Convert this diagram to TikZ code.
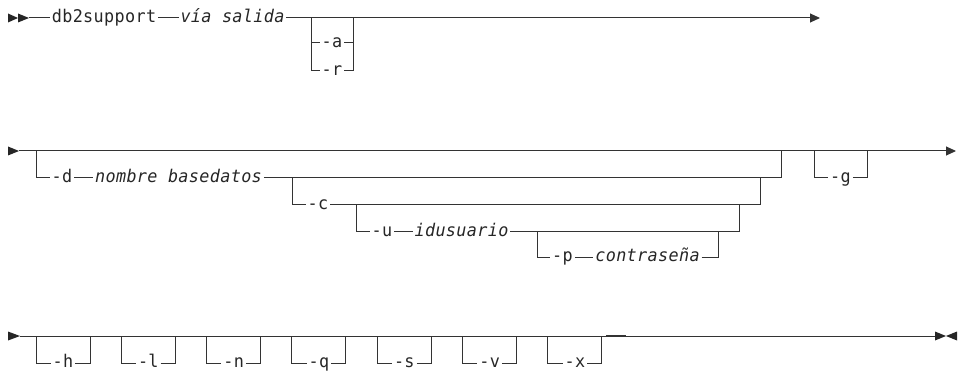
\documentclass[tikz,border=0pt]{standalone}
\usepackage{fontspec}
\usetikzlibrary{arrows.meta}
\newfontfamily\rrfont[LetterSpace=2,FakeStretch=0.96]{DejaVu Sans Mono}
\begin{document}
\begin{tikzpicture}[x=1pt,y=-1pt,line width=1pt,
  rail/.style={draw=black!80,line width=1pt},
  lbl/.style={font=\rrfont\fontsize{17.5}{19}\selectfont,inner xsep=1.5pt,inner ysep=0pt,anchor=base,text=black!85},
  var/.style={lbl,font=\rrfont\fontsize{17.5}{19}\selectfont\itshape},
  tip/.style={-{Triangle[length=10pt,width=9pt]}},
  head/.style={fill=black!85}]
\useasboundingbox (0,0) rectangle (960,371);
\def\dy{4.7}
% ---------- row 1 ----------
\fill[head] (8,13.5) -- (18,18) -- (8,22.5) -- cycle;
\fill[head] (18,13.5) -- (29,18) -- (18,22.5) -- cycle;
\coordinate (r1s) at (29,18);
\coordinate (r1e) at (820,18);
\node[lbl] (db) at (104,18+\dy) {db2support};
\node[var] (vs) at (232.5,18+\dy) {vía salida};
\draw[rail] (r1s) -- (r1s -| db.west);
\draw[rail] (r1s -| db.east) -- (r1s -| vs.west);
\draw[rail,tip] (r1s -| vs.east) -- (r1e);
\coordinate (a1) at (311,18);
\coordinate (a2) at (353,18);
\coordinate (ya) at (0,43);
\coordinate (yr) at (0,70.5);
\node[lbl] (na) at (332,43+\dy) {-a};
\node[lbl] (nr) at (332,70.5+\dy) {-r};
\draw[rail] (a1) |- (ya -| na.west);
\draw[rail] (ya -| na.east) -| (a2);
\draw[rail] (a1) |- (yr -| nr.west);
\draw[rail] (yr -| nr.east) -| (a2);
% ---------- row 2 ----------
\fill[head] (8,146.5) -- (19,151) -- (8,155.5) -- cycle;
\coordinate (r2s) at (19,151);
\coordinate (r2e) at (956,151);
\draw[rail,tip] (r2s) -- (r2e);
\coordinate (d1) at (36,151);
\coordinate (d2) at (781,151);
\coordinate (yd) at (0,178);
\node[lbl] (nd) at (62,178+\dy) {-d};
\node[var] (nb) at (178.5,178+\dy) {nombre basedatos};
\draw[rail] (d1) |- (yd -| nd.west);
\draw[rail] (yd -| nd.east) -- (yd -| nb.west);
\draw[rail] (yd -| nb.east) -| (d2);
\coordinate (c1) at (292,178);
\coordinate (c2) at (760,178);
\coordinate (yc) at (0,205);
\node[lbl] (nc) at (318,205+\dy) {-c};
\draw[rail] (c1) |- (yc -| nc.west);
\draw[rail] (yc -| nc.east) -| (c2);
\coordinate (u1) at (356,205);
\coordinate (u2) at (739,205);
\coordinate (yu) at (0,232);
\node[lbl] (nu) at (382,232+\dy) {-u};
\node[var] (ni) at (461.5,232+\dy) {idusuario};
\draw[rail] (u1) |- (yu -| nu.west);
\draw[rail] (yu -| nu.east) -- (yu -| ni.west);
\draw[rail] (yu -| ni.east) -| (u2);
\coordinate (p1) at (537,232);
\coordinate (p2) at (718,232);
\coordinate (yp) at (0,257);
\node[lbl] (np) at (562.5,257+\dy) {-p};
\node[var] (nx) at (647.5,257+\dy) {contraseña};
\draw[rail] (p1) |- (yp -| np.west);
\draw[rail] (yp -| np.east) -- (yp -| nx.west);
\draw[rail] (yp -| nx.east) -| (p2);
\coordinate (g1) at (814,151);
\coordinate (g2) at (867,151);
\node[lbl] (ng) at (840.5,178+\dy) {-g};
\draw[rail] (g1) |- (yd -| ng.west);
\draw[rail] (yd -| ng.east) -| (g2);
% ---------- row 3 ----------
\fill[head] (8,331.5) -- (20,336) -- (8,340.5) -- cycle;
\coordinate (r3s) at (20,336);
\coordinate (r3e) at (935,336);
\draw[rail] (r3s) -- (r3e);
\fill[head] (935,331.5) -- (946,336) -- (935,340.5) -- cycle;
\fill[head] (957,331.5) -- (946,336) -- (957,340.5) -- cycle;
\coordinate (yo) at (0,363);
\foreach \t [count=\k from 0] in {h,l,n,q,s,v,x}{
  \coordinate (b\k l) at ({36+85.33*\k},336);
  \coordinate (b\k r) at ({90+85.33*\k},336);
  \node[lbl] (o\k) at ({63+85.33*\k},363+\dy) {-\t};
  \draw[rail] (b\k l) |- (yo -| o\k.west);
  \draw[rail] (yo -| o\k.east) -| (b\k r);
}
\coordinate (m1) at (606,335.5);
\coordinate (m2) at (626,335.5);
\draw[draw=black!80,line width=1.4pt] (m1) -- (m2);
\end{tikzpicture}
\end{document}
